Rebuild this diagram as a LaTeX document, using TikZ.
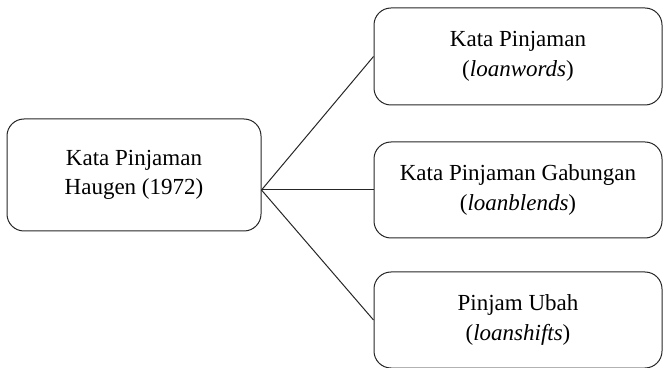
\documentclass[tikz,border=0pt]{standalone}
\usepackage{fontspec}
\setmainfont{Liberation Serif}
\usepackage{tikz}
\usetikzlibrary{positioning}

\tikzset{
    kotak/.style={draw=black!85, line width=1pt, rectangle, rounded corners=17pt,
        align=center, font=\fontsize{23}{29.5}\selectfont, inner sep=0pt},
    garis/.style={draw=black!85, line width=1pt}
}

\begin{document}
\begin{tikzpicture}[x=1pt, y=1pt]

    \useasboundingbox (0,0) rectangle (664,367);

    % Induk
    \node[kotak, minimum width=254pt, minimum height=112pt] (haugen) at (134,192) {Kata Pinjaman\\Haugen (1972)};

    % Cabang
    \node[kotak, minimum width=288pt, minimum height=97pt] (loanwords) at (518,310.5) {Kata Pinjaman\\(\textit{loanwords})};
    \node[kotak, minimum width=288pt, minimum height=96pt] (loanblends) at (518,177) {Kata Pinjaman Gabungan\\(\textit{loanblends})};
    \node[kotak, minimum width=288pt, minimum height=96pt] (loanshifts) at (518,47) {Pinjam Ubah\\(\textit{loanshifts})};

    % Titik temu garis
    \coordinate (pusat) at (haugen.east |- loanblends.west);

    \draw[garis] (pusat) -- (loanwords.west);
    \draw[garis] (pusat) -- (loanblends.west);
    \draw[garis] (pusat) -- (loanshifts.west);

\end{tikzpicture}
\end{document}
